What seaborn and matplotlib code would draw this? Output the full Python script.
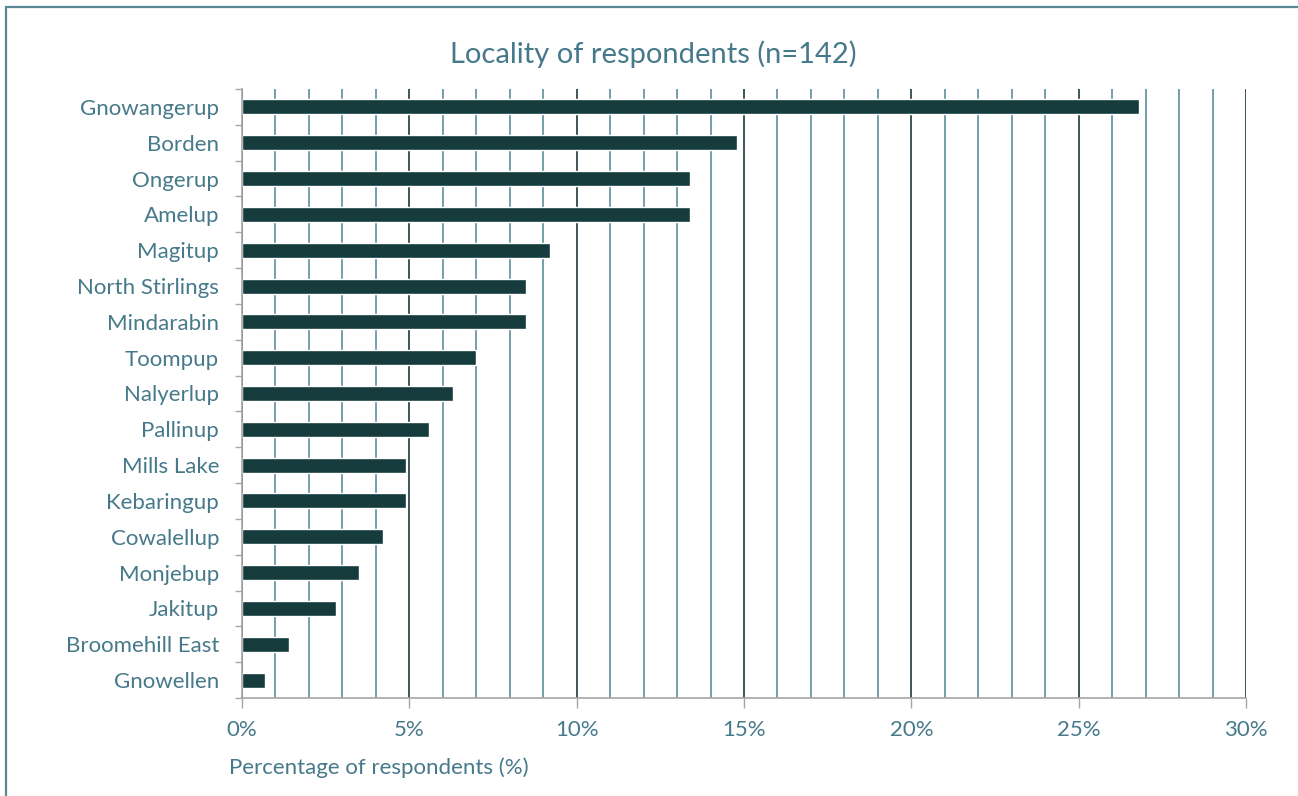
import numpy as np
import pandas as pd
import matplotlib
matplotlib.use("Agg")
import matplotlib.pyplot as plt
from matplotlib.ticker import MultipleLocator, FixedLocator, PercentFormatter
from matplotlib.patches import Rectangle
import seaborn as sns

localities = ["Gnowangerup", "Borden", "Ongerup", "Amelup", "Magitup",
              "North Stirlings", "Mindarabin", "Toompup", "Nalyerlup",
              "Pallinup", "Mills Lake", "Kebaringup", "Cowalellup",
              "Monjebup", "Jakitup", "Broomehill East", "Gnowellen"]
percent = [26.8, 14.8, 13.4, 13.4, 9.2, 8.5, 8.5, 7.0, 6.3,
           5.6, 4.9, 4.9, 4.2, 3.5, 2.8, 1.4, 0.7]
x_ticks = [0, 5, 10, 15, 20, 25, 30]

df = pd.DataFrame({"Locality": localities, "Percent": percent})

sns.set_theme(style="white")
plt.rcParams["font.family"] = ["Lato", "DejaVu Sans"]

TEXT = "#46798a"
BAR = "#153b3d"
MINOR = "#5e8f9e"
MAJOR = "#1c3a3e"
SPINE = "#a6a6a6"

fig = plt.figure(figsize=(12.98, 7.96), dpi=100)
W, H = 1298, 796
ax = fig.add_axes([242 / W, 1 - 698 / H, (1246 - 242) / W, (698 - 89) / H])

sns.barplot(data=df, x="Percent", y="Locality", orient="h", color=BAR,
            width=0.42, saturation=1, ax=ax, zorder=3)

ax.set_xlim(0, 30)
ax.set_ylim(len(localities) - 0.5, -0.5)

# vertical gridlines: every 1% light, every 5% dark
ax.xaxis.set_major_locator(FixedLocator(x_ticks))
ax.xaxis.set_minor_locator(MultipleLocator(1))
ax.xaxis.set_major_formatter(PercentFormatter(decimals=0))
ax.grid(False)
for v in range(0, 31):
    ax.axvline(v, color=MAJOR if v % 5 == 0 else MINOR, lw=1.2, zorder=1)

ax.yaxis.set_minor_locator(FixedLocator(np.arange(-0.5, len(localities), 1.0)))
ax.tick_params(axis="y", which="major", length=0, pad=16.5, labelsize=16, labelcolor=TEXT)
ax.tick_params(axis="y", which="minor", length=5, width=1, color=SPINE, left=True)
ax.tick_params(axis="x", which="major", length=7, width=1, color=SPINE, bottom=True,
               pad=9, labelsize=16, labelcolor=TEXT)
ax.tick_params(axis="x", which="minor", length=0)

for side in ["top", "right"]:
    ax.spines[side].set_visible(False)
for side in ["left", "bottom"]:
    ax.spines[side].set_color(SPINE)
    ax.spines[side].set_linewidth(1.2)
    ax.spines[side].set_zorder(4)

ax.set_xlabel("")
ax.set_ylabel("")

fig.text(653 / W, 1 - 54 / H, "Locality of respondents (n=142)", ha="center", va="center",
         fontsize=21, color=TEXT)
fig.text(229 / W, 1 - 768 / H, "Percentage of respondents (%)", ha="left", va="center",
         fontsize=16, color=TEXT)

fig.patches.append(Rectangle((6 / W, -0.05), 1.2, 1 - 7 / H + 0.05, transform=fig.transFigure,
                             fill=False, edgecolor="#5a8796", lw=1.6, zorder=0))

fig.savefig("out.png", dpi=100)
